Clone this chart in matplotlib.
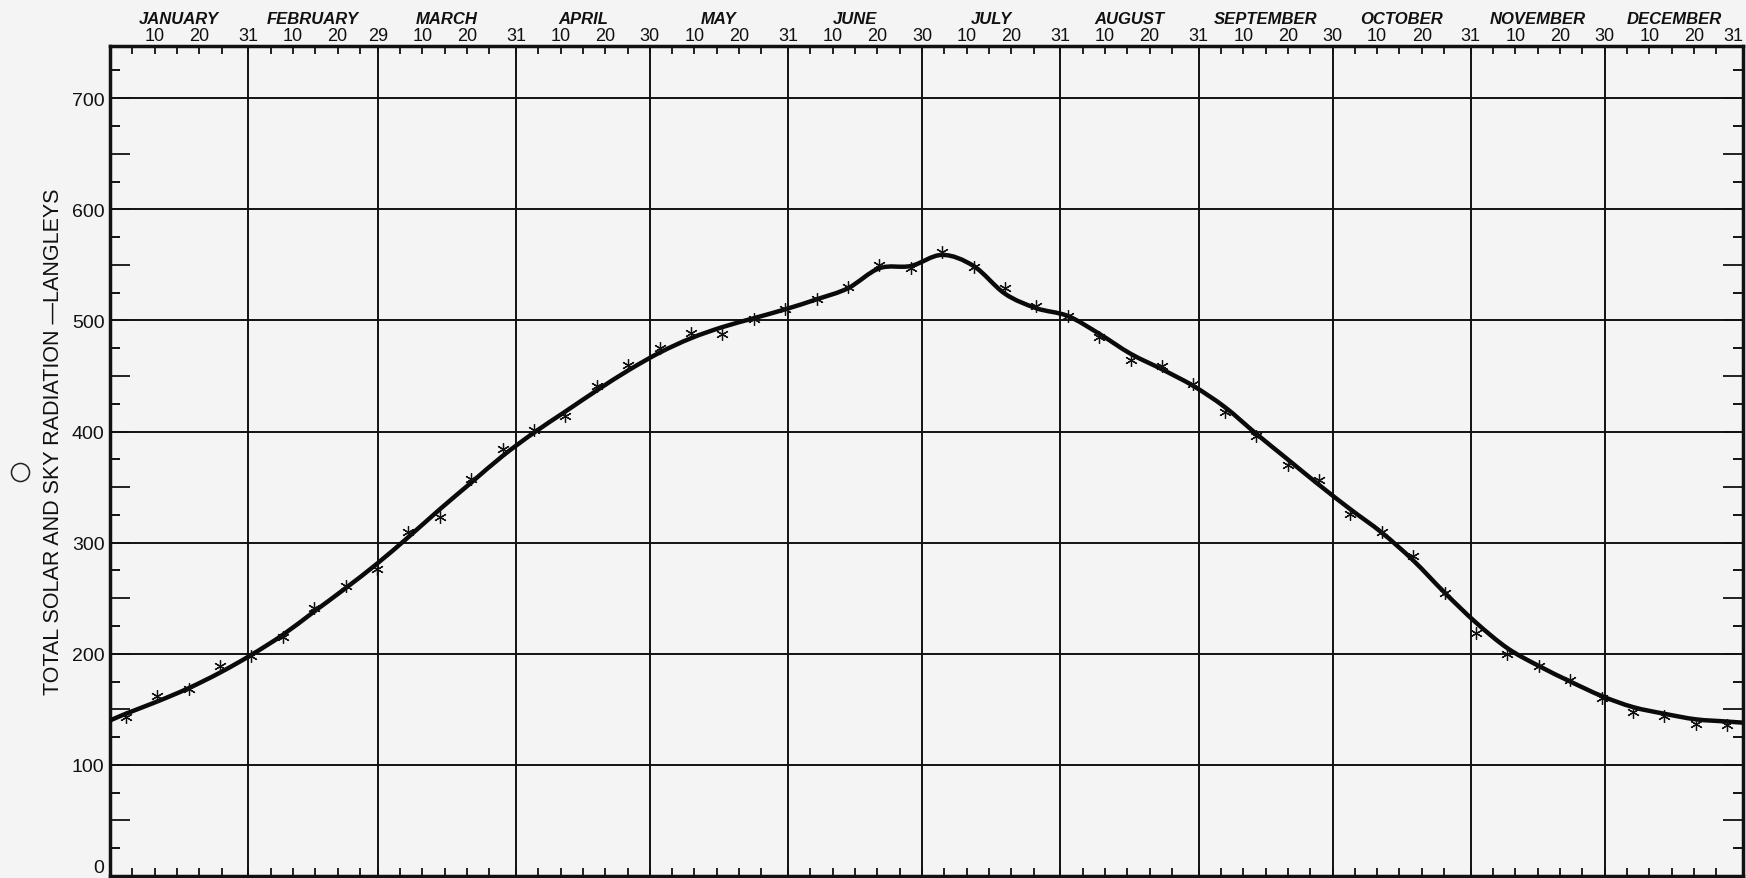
import numpy as np
import matplotlib
matplotlib.use('Agg')
import matplotlib.pyplot as plt
from matplotlib.path import Path
from matplotlib.patches import PathPatch
from matplotlib.lines import Line2D

plt.rcParams['font.family'] = ['Liberation Sans', 'DejaVu Sans']

# calendar (leap year)
months = ['JANUARY', 'FEBRUARY', 'MARCH', 'APRIL', 'MAY', 'JUNE', 'JULY',
          'AUGUST', 'SEPTEMBER', 'OCTOBER', 'NOVEMBER', 'DECEMBER']
month_days = [31, 29, 31, 30, 31, 30, 31, 31, 30, 31, 30, 31]

# weekly mean radiation, langleys (52 weeks)
weekly_mean = [143, 162, 168, 189, 198, 215, 241, 261, 276, 310,
               323, 357, 384, 401, 414, 441, 460, 475, 489, 488,
               501, 510, 519, 530, 550, 547, 562, 548, 529, 513,
               504, 485, 464, 459, 443, 418, 396, 370, 356, 326,
               310, 288, 255, 219, 200, 189, 176, 160, 148, 144,
               137, 136]

# smoothed seasonal curve, read at the week centres, plus year start / end
curve_start = 140
curve_values = [146, 157, 169, 183, 199, 217, 238, 259, 281, 305,
                330, 354, 378, 399, 418, 437, 455, 471, 484, 494,
                502, 510, 519, 529, 547, 549, 559, 549, 524, 511,
                504, 488, 470, 456, 441, 422, 398, 375, 352, 330,
                309, 284, 255, 228, 205, 189, 175, 162, 152, 146,
                141, 139]
curve_end = 138

y_major = [0, 100, 200, 300, 400, 500, 600, 700]

n_days = sum(month_days)
month_end = np.cumsum(month_days)
month_start = month_end - np.array(month_days)
week_day = (np.arange(len(weekly_mean)) + 0.5) * n_days / len(weekly_mean)

fig = plt.figure(figsize=(17.46, 8.79), dpi=100)
fig.patch.set_facecolor('#f4f4f4')
ax = fig.add_axes([110 / 1746, 2 / 879, 1633 / 1746, 830 / 879])
ax.set_facecolor('#f4f4f4')
ax.set_xlim(0, n_days)
ax.set_ylim(0, 747)

# grid: month boundaries and every 100 langleys
for d in month_end[:-1]:
    ax.axvline(d, color='#111111', lw=1.4, zorder=1)
for v in y_major[1:]:
    ax.axhline(v, color='#111111', lw=1.4, zorder=1)

for s in ax.spines.values():
    s.set_linewidth(2.5)
    s.set_color('#111111')

# x ticks every 5 days, labelled at 10, 20 and month end (top only)
xt, xl = [], []
for s, n in zip(month_start, month_days):
    for d in (5, 10, 15, 20, 25):
        xt.append(s + d)
        xl.append(str(d) if d in (10, 20) else '')
    xt.append(s + n)
    xl.append(str(n))
ax.set_xticks(xt, labels=xl)
ax.tick_params(axis='x', direction='in', length=6, width=1.3, top=True, bottom=True,
               labeltop=True, labelbottom=False, labelsize=13, pad=1.5, colors='#111111')
# last "31" sits on the right spine, keep it inside the figure
ax.xaxis.get_major_ticks()[-1].label2.set_ha('right')

# y ticks: long at 50s, short at 25s
y50 = np.arange(0, 701, 50)
ax.set_yticks(y50, labels=[str(v) if v % 100 == 0 else '' for v in y50])
ax.set_yticks(np.arange(25, 747, 50), minor=True)
ax.tick_params(axis='y', which='major', direction='in', length=14.5, width=1.3,
               left=True, right=True, labelsize=14, pad=4, colors='#111111')
ax.tick_params(axis='y', which='minor', direction='in', length=7.5, width=1.3,
               left=True, right=True)
for lbl in ax.get_yticklabels():
    if lbl.get_text() == '0':
        lbl.set_va('bottom')

# month names above the day numbers
for name, s, n in zip(months, month_start, month_days):
    ax.text(s + n / 2, 1.033, name, transform=ax.get_xaxis_transform(),
            ha='center', va='center', fontsize=12, fontweight='bold',
            fontstyle='italic', color='#111111')

# smooth curve through the knots as cubic Bezier segments
kx = np.concatenate([[0], week_day, [n_days]])
ky = np.array([curve_start] + curve_values + [curve_end], dtype=float)
slope = np.empty_like(ky)
slope[1:-1] = (ky[2:] - ky[:-2]) / (kx[2:] - kx[:-2])
slope[0] = (ky[1] - ky[0]) / (kx[1] - kx[0])
slope[-1] = (ky[-1] - ky[-2]) / (kx[-1] - kx[-2])
verts = [(kx[0], ky[0])]
codes = [Path.MOVETO]
for i in range(len(kx) - 1):
    h = kx[i + 1] - kx[i]
    verts += [(kx[i] + h / 3, ky[i] + slope[i] * h / 3),
              (kx[i + 1] - h / 3, ky[i + 1] - slope[i + 1] * h / 3),
              (kx[i + 1], ky[i + 1])]
    codes += [Path.CURVE4] * 3
ax.add_patch(PathPatch(Path(verts, codes), fill=False, lw=3.2, color='#0a0a0a',
                       capstyle='round', joinstyle='round', zorder=3))

ax.plot(week_day, weekly_mean, linestyle='none', marker=(6, 2, 0), ms=9,
        mew=0.9, color='#111111', zorder=4)

fig.text(0.0306, 0.497, 'TOTAL SOLAR AND SKY RADIATION —LANGLEYS', rotation=90,
         ha='center', va='center', fontsize=15.5, color='#111111')
fig.add_artist(Line2D([0.0112], [0.4622], transform=fig.transFigure, marker='o',
                      ms=13, mfc='none', mec='#222222', mew=1.1))

fig.savefig('out.png', dpi=100, facecolor=fig.get_facecolor())
